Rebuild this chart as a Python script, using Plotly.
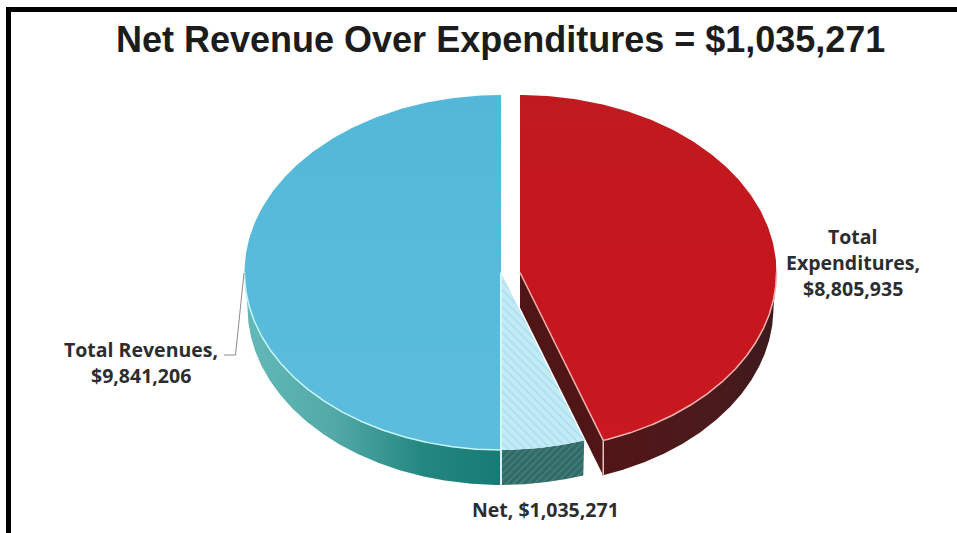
import numpy as np
import plotly.graph_objects as go

# Data
categories = ["Total Expenditures", "Net", "Total Revenues"]
values = [8805935, 1035271, 9841206]
title_text = "Net Revenue Over Expenditures = $1,035,271"
label_lines = {
    "Total Expenditures": ["Total", "Expenditures,", "$8,805,935"],
    "Net": ["Net, $1,035,271"],
    "Total Revenues": ["Total Revenues,", "$9,841,206"],
}

# Geometry of the tilted pie, in page pixels
W, H = 957, 533
CY, RX, RY = 272.5, 256.5, 177.5
DEPTH, TAPER = 35.0, 3.0
CX = {"Total Expenditures": 520.0, "Net": 501.0, "Total Revenues": 501.0}

total = sum(values)
spans = {}
start = 0.0
for c, v in zip(categories, values):
    spans[c] = (start, start + 360.0 * v / total)
    start = spans[c][1]


def arc(cx, a0, a1, dz=0.0, shrink=0.0, n=240):
    t = np.radians(np.linspace(a0, a1, n))
    return cx + (RX - shrink) * np.sin(t), CY + dz - RY * np.cos(t)


fig = go.Figure()


def poly(x, y, color=None, gradient=None, pattern=None):
    kw = dict(x=list(x) + [x[0]], y=list(y) + [y[0]], mode="lines", fill="toself",
              line=dict(width=0), hoverinfo="skip", showlegend=False)
    if gradient:
        kw["fillgradient"] = gradient
    if pattern:
        kw["fillpattern"] = pattern
    if color:
        kw["fillcolor"] = color
    fig.add_trace(go.Scatter(**kw))


def rim(x, y, color, width=1.5):
    fig.add_trace(go.Scatter(x=list(x), y=list(y), mode="lines",
                             line=dict(color=color, width=width),
                             hoverinfo="skip", showlegend=False))


def wall(cx, a0, a1, **kw):
    x1, y1 = arc(cx, a0, a1)
    x2, y2 = arc(cx, a0, a1, DEPTH, TAPER)
    poly(np.r_[x1, x2[::-1]], np.r_[y1, y2[::-1]], **kw)


def face(cx, a0, a1, **kw):
    x, y = arc(cx, a0, a1)
    poly(np.r_[cx, x], np.r_[CY, y], **kw)


# Total Revenues
a0, a1 = spans["Total Revenues"]
cx = CX["Total Revenues"]
wall(cx, a0, a1 - 90, gradient=dict(type="horizontal", colorscale=[
    [0, "#62b9b8"], [0.35, "#52a9a8"], [0.7, "#23877f"], [1, "#177a74"]]))
face(cx, a0, a1, gradient=dict(type="vertical", colorscale=[
    [0, "#5cbcdd"], [0.5, "#58bbdb"], [1, "#52b7d8"]]))
x, y = arc(cx, a0, a1 - 90)
rim(x, y, "#c9f6f6", 1.5)

# Net
a0, a1 = spans["Net"]
cx = CX["Net"]
wall(cx, a0, a1, color="#3e736f",
     pattern=dict(shape="/", bgcolor="#2f6b67", fgcolor="#64918d", size=5, solidity=0.3))
face(cx, a0, a1, color="#bce7f3",
     pattern=dict(shape="\\", bgcolor="#c4ebf5", fgcolor="#93d3e6", size=6, solidity=0.3))
rim([cx, cx], [CY, CY + RY], "#d5f7fb", 2)
rim([cx, cx], [CY + RY, CY + RY + DEPTH], "#d8eeee", 2)

# Total Expenditures
a0, a1 = spans["Total Expenditures"]
cx = CX["Total Expenditures"]
ex, ey = arc(cx, a1, a1, n=1)
poly([cx, ex[0], ex[0], cx], [CY, ey[0], ey[0] + DEPTH, CY + DEPTH], color="#4f1517")
wall(cx, 90, a1, gradient=dict(type="horizontal", colorscale=[
    [0, "#521517"], [0.6, "#4b1a1c"], [1, "#3d1a1d"]]))
face(cx, a0, a1, gradient=dict(type="vertical", colorscale=[
    [0, "#c9181f"], [0.5, "#c5161d"], [1, "#c01a1f"]]))
x, y = arc(cx, 90, a1)
rim(x, y, "#f2b3b0", 1.5)
rim([cx, ex[0]], [CY, ey[0]], "#f0b0ae", 1.5)
rim([ex[0], ex[0]], [ey[0], ey[0] + DEPTH], "#e6c4c2", 1.5)

# Leader line for Total Revenues
rim([244, 235.5, 224], [273, 355, 355], "#8c8c8c", 1)

# Title and labels
annotations = [dict(x=500, y=39, text="<b>" + title_text + "</b>",
                    font=dict(family="Liberation Sans", size=36, color="#1c1c1c"))]
positions = {"Total Expenditures": (853, 236), "Net": (545, 509), "Total Revenues": (141, 349)}
for c, lines in label_lines.items():
    px, py = positions[c]
    for i, t in enumerate(lines):
        annotations.append(dict(x=px, y=py + i * 26, text="<b>" + t + "</b>",
                                font=dict(family="Open Sans", size=19.5, color="#2b2d30")))
for a in annotations:
    a.update(xref="x", yref="y", showarrow=False, xanchor="center", yanchor="middle")

fig.update_layout(
    width=W, height=H, margin=dict(l=0, r=0, t=0, b=0, pad=0),
    paper_bgcolor="white", plot_bgcolor="white", showlegend=False,
    xaxis=dict(range=[0, W], visible=False, fixedrange=True),
    yaxis=dict(range=[H, 0], visible=False, fixedrange=True),
    annotations=annotations,
    shapes=[
        dict(type="rect", xref="x", yref="y", x0=6, x1=W, y0=7, y1=12,
             fillcolor="black", line=dict(width=0), layer="below"),
        dict(type="rect", xref="x", yref="y", x0=6, x1=11, y0=7, y1=H,
             fillcolor="black", line=dict(width=0), layer="below"),
    ],
)
fig.write_html("out.html", config=dict(displayModeBar=False),
               post_script="document.body.style.margin='0';document.documentElement.style.overflow='hidden';")
